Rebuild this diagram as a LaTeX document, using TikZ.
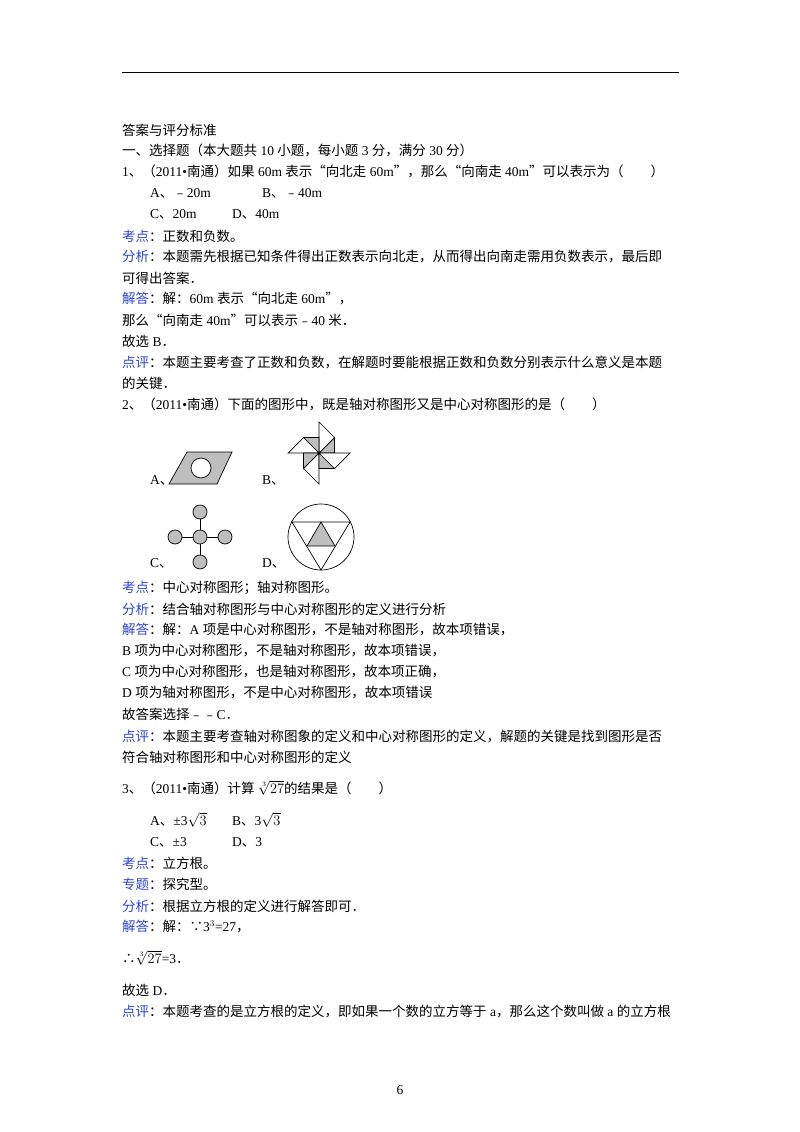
\documentclass[tikz,border=0pt]{standalone}
\usepackage{fontspec}
\setmainfont{Liberation Serif}
\newfontfamily\cjk{Noto Sans CJK SC}
\XeTeXinterchartokenstate=1
\newXeTeXintercharclass\CJKcls
\newcount\mycnt
\def\setcls#1#2{\mycnt=#1 \loop\XeTeXcharclass\mycnt=\CJKcls \advance\mycnt 1 \ifnum\mycnt<#2 \repeat}
\setcls{"4E00}{"A000}
\setcls{"3000}{"3040}
\setcls{"FF00}{"FFF0}
\setcls{"FE30}{"FE70}
\XeTeXcharclass"2234=\CJKcls \XeTeXcharclass"2235=\CJKcls
\XeTeXcharclass"201C=\CJKcls \XeTeXcharclass"201D=\CJKcls
\XeTeXinterchartoks 0 \CJKcls = {\cjk}
\XeTeXinterchartoks 4095 \CJKcls = {\cjk}
\XeTeXinterchartoks \CJKcls 0 = {\rmfamily}
\XeTeXinterchartoks \CJKcls 4095 = {\rmfamily}
\definecolor{lblue}{RGB}{45,70,210}
\definecolor{fgray}{RGB}{190,190,190}
\newcommand{\lab}[1]{\textcolor{lblue}{#1}}
\newcommand{\bgmath}[1]{{\fontsize{15}{15}\selectfont$#1$}}
\tikzset{tx/.style={anchor=west,inner sep=0pt,font=\fontsize{13.5}{16}\selectfont},
 fig/.style={draw=black,line width=0.7pt}}
\begin{document}
\begin{tikzpicture}[x=1pt,y=-1pt]
\useasboundingbox (0,0) rectangle (800,1132);
\draw[line width=0.8pt] (122,72) coordinate (r1) -- (679,72) coordinate (r2);
\node[tx] (l1) at (122,130) {答案与评分标准};
\node[tx] (l2) at (122,150) {一、选择题（本大题共 10 小题，每小题 3 分，满分 30 分）};
\node[tx] (l3) at (122,171) {1、（2011•南通）如果 60m 表示“向北走 60m”，那么“向南走 40m”可以表示为（　　）};
\node[tx] (l4a) at (150,193) {A、﹣20m};
\node[tx] (l4b) at (262,193) {B、﹣40m};
\node[tx] (l5a) at (150,214) {C、20m};
\node[tx] (l5b) at (232,214) {D、40m};
\node[tx] (l6) at (122,236) {\lab{考点}：正数和负数。};
\node[tx] (l7) at (122,257) {\lab{分析}：本题需先根据已知条件得出正数表示向北走，从而得出向南走需用负数表示，最后即};
\node[tx] (l8) at (122,278) {可得出答案．};
\node[tx] (l9) at (122,299) {\lab{解答}：解：60m 表示“向北走 60m”，};
\node[tx] (l10) at (122,320) {那么“向南走 40m”可以表示﹣40 米．};
\node[tx] (l11) at (122,341) {故选 B．};
\node[tx] (l12) at (122,362) {\lab{点评}：本题主要考查了正数和负数，在解题时要能根据正数和负数分别表示什么意义是本题};
\node[tx] (l13) at (122,383) {的关键．};
\node[tx] (l14) at (122,404) {2、（2011•南通）下面的图形中，既是轴对称图形又是中心对称图形的是（　　）};
% figure A
\node[tx] (fa) at (150,480) {A、};
\filldraw[fig,fill=fgray] (169,484) -- (187,452) -- (232,452) -- (217,484) -- cycle;
\filldraw[fig,fill=white] (201,468) circle (10);
% figure B
\node[tx] (fb) at (262,480) {B、};
\begin{scope}[shift={(319,453)}]
\foreach \r in {0,90,180,270}{
  \begin{scope}[rotate=\r]
  \filldraw[fig,fill=fgray] (0,0) -- (15.5,-15.5) -- (15.5,0) -- cycle;
  \filldraw[fig,fill=white] (0,0) -- (0,-31) -- (15.5,-15.5) -- cycle;
  \end{scope}}
\fill (0,0) circle (1.5);
\end{scope}
% figure C
\node[tx] (fc) at (150,563) {C、};
\draw[fig] (175,537) -- (225,537) (200,512) -- (200,562);
\foreach \p in {(200,537),(175,537),(225,537),(200,512),(200,562)}
  \filldraw[fig,fill=fgray] \p circle (7);
% figure D
\node[tx] (fd) at (262,563) {D、};
\draw[fig] (321,537) circle (33);
\draw[fig] (292,522) -- (350,522) -- (321,570) -- cycle;
\filldraw[fig,fill=fgray] (321,522) -- (307,546) -- (335,546) -- cycle;
\node[tx] (m1) at (122,588) {\lab{考点}：中心对称图形；轴对称图形。};
\node[tx] (m2) at (122,609) {\lab{分析}：结合轴对称图形与中心对称图形的定义进行分析};
\node[tx] (m3) at (122,630) {\lab{解答}：解：A 项是中心对称图形，不是轴对称图形，故本项错误，};
\node[tx] (m4) at (122,651) {B 项为中心对称图形，不是轴对称图形，故本项错误，};
\node[tx] (m5) at (122,672) {C 项为中心对称图形，也是轴对称图形，故本项正确，};
\node[tx] (m6) at (122,693) {D 项为轴对称图形，不是中心对称图形，故本项错误};
\node[tx] (m7) at (122,714) {故答案选择﹣﹣C．};
\node[tx] (m8) at (122,736) {\lab{点评}：本题主要考查轴对称图象的定义和中心对称图形的定义，解题的关键是找到图形是否};
\node[tx] (m9) at (122,757) {符合轴对称图形和中心对称图形的定义};
\node[tx] (n1) at (122,788) {3、（2011•南通）计算 \bgmath{\sqrt[3]{27}}的结果是（　　）};
\node[tx] (n2a) at (150,820) {A、±3\bgmath{\sqrt{3}}};
\node[tx] (n2b) at (232,820) {B、3\bgmath{\sqrt{3}}};
\node[tx] (n3a) at (150,842) {C、±3};
\node[tx] (n3b) at (232,842) {D、3};
\node[tx] (n4) at (122,863) {\lab{考点}：立方根。};
\node[tx] (n5) at (122,884) {\lab{专题}：探究型。};
\node[tx] (n6) at (122,906) {\lab{分析}：根据立方根的定义进行解答即可．};
\node[tx] (n7) at (122,927) {\lab{解答}：解：∵3$^3$=27，};
\node[tx] (n8) at (122,958) {∴\bgmath{\sqrt[3]{27}}=3．};
\node[tx] (n9) at (122,990) {故选 D．};
\node[tx] (n10) at (122,1011) {\lab{点评}：本题考查的是立方根的定义，即如果一个数的立方等于 a，那么这个数叫做 a 的立方根};
\node[tx,anchor=center] (pg) at (400,1090) {6};
\end{tikzpicture}
\end{document}
